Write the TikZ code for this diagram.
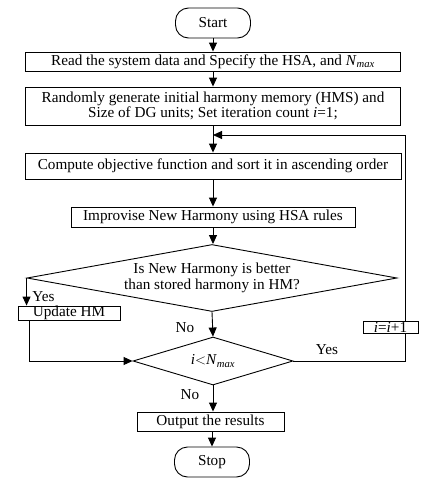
\documentclass[tikz,border=0pt]{standalone}
\usepackage{fontspec}
\setmainfont{Liberation Serif}
\usetikzlibrary{shapes.geometric,arrows.meta}
\newcommand{\Nmx}{\textit{N}\textsubscript{\textit{max}}}

\begin{document}
\begin{tikzpicture}[x=1pt,y=-1pt,line width=0.9pt,
		font=\fontsize{15.2}{15.5}\selectfont,
		>={Triangle[length=9pt,width=8pt]},
		box/.style={draw,rectangle,inner sep=0pt,align=center},
		term/.style={draw,rectangle,rounded corners=13pt,minimum width=75pt,minimum height=30pt},
		decision/.style={draw,diamond,inner sep=0pt,align=center}]
		\useasboundingbox (0,0) rectangle (431,490);
		% main column
		\node[term] (start) at (213,23) {Start};
		\node[box,minimum width=375pt,minimum height=19pt] (read) at (213,61.5) {Read the system data and Specify the HSA, and \Nmx};
		\node[box,minimum width=375pt,minimum height=38pt] (init) at (213,106) {Randomly generate initial harmony memory (HMS) and\\Size of DG units; Set iteration count \textit{i}=1;};
		\node[box,minimum width=376pt,minimum height=26pt] (comp) at (213,166) {Compute objective function and sort it in ascending order};
		\node[box,minimum width=284pt,minimum height=20pt] (impr) at (213,217) {Improvise New Harmony using HSA rules};
		\node[decision,aspect=5.5,minimum width=370pt,minimum height=67pt] (dec1) at (212,278) {Is New Harmony is better\\than stored harmony in HM?};
		\node[decision,aspect=3.3,minimum width=160pt,minimum height=48pt] (dec2) at (213,361) {\textit{i}$<$\Nmx};
		\node[box,minimum width=147pt,minimum height=19pt] (out) at (210.5,421.5) {Output the results};
		\node[term] (stop) at (212,462) {Stop};
		\node[box,minimum width=102pt,minimum height=14pt] (upd) at (69,313) {Update HM};
		\coordinate (loop) at (405,135);
		\coordinate (join) at (213,135);
		% connectors
		\draw[->] (start) -- (start |- read.north);
		\draw[->] (read) -- (read |- init.north);
		\draw[->] (init) -- (init |- comp.north);
		\draw[->] (comp) -- (comp |- impr.north);
		\draw[->] (impr) -- (impr |- dec1.north);
		\draw[->] (dec1.west) -- (dec1.west |- upd.north);
		\draw[->] ([xshift=12pt]upd.south west) |- (dec2.west);
		\draw[->] (dec1.south) -- (dec2.north);
		\draw[->] (dec2.south) -- (dec2.south |- out.north);
		\draw[->] (out.south -| stop) -- (stop.north);
		\draw[->] (dec2.east) -| (loop) -- (join);
		\node[box,fill=white,minimum width=55pt,minimum height=12pt] (inc) at (390.5,327) {\textit{i}=\textit{i}+1};
		% labels
		\node[anchor=west,inner sep=0pt] (yes1) at (32,297) {Yes};
		\node[inner sep=0pt] (no1) at (185,328) {No};
		\node[inner sep=0pt] (yes2) at (327,350) {Yes};
		\node[inner sep=0pt] (no2) at (190,395) {No};
	\end{tikzpicture}
\end{document}
